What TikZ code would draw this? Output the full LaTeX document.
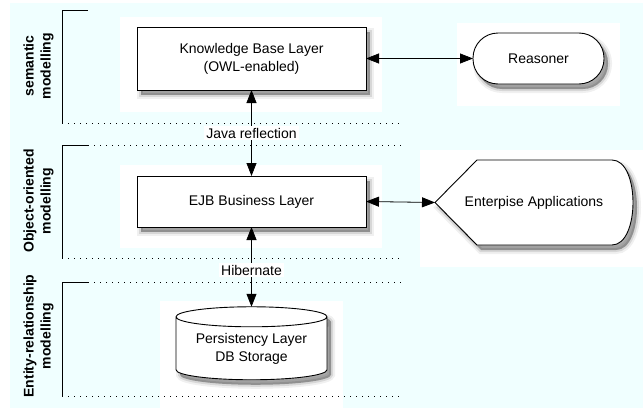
\documentclass[tikz,border=0pt]{standalone}
\usepackage{fontspec}
\setmainfont{Liberation Sans}
\usetikzlibrary{arrows.meta,shapes.geometric,shadows}

\definecolor{bgcyan}{RGB}{240,255,255}
\pgfdeclarelayer{back}
\pgfsetlayers{back,main}

\begin{document}
\begin{tikzpicture}[x=1pt,y=1pt,
  font=\fontsize{14}{18}\selectfont,
  every node/.style={inner sep=0pt, outer sep=0pt},
  % soft drop shadow built from stacked translucent copies
  dropshade/.style={
    general shadow={shadow xshift=4pt, shadow yshift=-5pt, fill=black, draw=black,
      line width=8pt, opacity=0.06},
    general shadow={shadow xshift=4pt, shadow yshift=-5pt, fill=black, draw=black,
      line width=4pt, opacity=0.10},
    general shadow={shadow xshift=4pt, shadow yshift=-5pt, fill=black, opacity=0.2}},
  outline/.style={draw, line width=0.9pt, fill=white, dropshade},
  layerbox/.style={outline, minimum width=229pt, align=center},
  link/.style={line width=0.8pt, {Triangle[length=13pt,width=10pt]}-{Triangle[length=13pt,width=10pt]}},
  tier/.style={line width=1pt, dash pattern=on 1.2pt off 4.8pt},
  bracket/.style={line width=0.9pt},
  tierlabel/.style={font=\bfseries\fontsize{14}{17}\selectfont, rotate=90, align=center},
  conn/.style={fill=white, inner xsep=2pt, inner ysep=2pt}
]
\useasboundingbox (0,0) rectangle (643,-415);

% page background and the white panels behind each shape
\begin{pgfonlayer}{back}
  \fill[bgcyan] (10,-3) rectangle (643,-408);
  \fill[white] (120,-17) rectangle (382,-112);
  \fill[white] (457,-23) rectangle (620,-106);
  \fill[white] (120,-165) rectangle (382,-248);
  \fill[white] (420,-150) rectangle (643,-267);
  \fill[white] (160,-301) rectangle (343,-415);
\end{pgfonlayer}

% tier brackets and separators
\draw[bracket] (88,-10) -- (62,-10) -- (62,-123);
\draw[tier] (62,-123) -- (403,-123);
\draw[bracket] (88,-145) -- (62,-145) -- (62,-258);
\draw[tier] (88,-145) -- (403,-145);
\draw[tier] (62,-258) -- (403,-258);
\draw[bracket] (88,-282) -- (62,-282) -- (62,-396);
\draw[tier] (88,-282) -- (403,-282);
\draw[tier] (62,-396) -- (403,-396);

\node[tierlabel] (sem) at (38.5,-66) {semantic\\modelling};
\node[tierlabel] (oo) at (38.5,-201) {Object-oriented\\modelling};
\node[tierlabel] (er) at (38.5,-336) {Entity-relationship\\modelling};

% layers
\node[layerbox, minimum height=63pt] (kb) at (251.5,-58.5) {Knowledge Base Layer\\(OWL-enabled)};
\node[layerbox, minimum height=51pt] (ejb) at (251.5,-201.5) {EJB Business Layer};
\node[cylinder, shape border rotate=90, outline, aspect=0.18,
      minimum width=151pt, minimum height=73pt, align=center]
      (db) at (251.5,-348.5) {Persistency Layer\\DB Storage};

% external parts
\node[outline, rounded corners=25pt, minimum width=131pt, minimum height=51pt]
      (rs) at (538.5,-58.5) {Reasoner};
\node[minimum width=198pt, minimum height=85pt] (ea) at (534,-202.5) {Enterpise Applications};
\begin{pgfonlayer}{back}
  \path[outline] (ea.west) -- ([xshift=42pt]ea.north west)
    -- ([xshift=-21pt]ea.north east)
    .. controls ([xshift=7pt]ea.north east) and ([xshift=7pt]ea.south east) .. ([xshift=-21pt]ea.south east)
    -- ([xshift=42pt]ea.south west) -- cycle;
\end{pgfonlayer}

% connectors
\draw[link] (kb.east) -- (rs.west);
\draw[link] (ejb.east) -- (ea.west);
\draw[link] (kb.south) -- (ejb.north);
\draw[link] (ejb.south) -- (db.north);
\node[conn] (jr) at (251.5,-133) {Java reflection};
\node[conn] (hb) at (251.5,-270) {Hibernate};
\end{tikzpicture}
\end{document}
